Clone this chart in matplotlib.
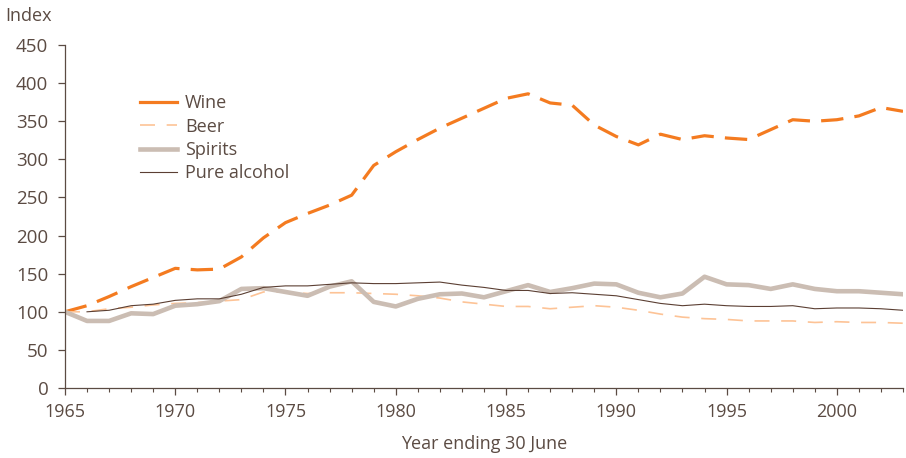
import matplotlib.pyplot as plt
from matplotlib.lines import Line2D
from matplotlib.ticker import MultipleLocator

# data (index, 1965 = 100)
years = list(range(1965, 2004))
wine = [100, 108, 120, 133, 145, 157, 155, 156, 172, 197, 217, 229, 240, 253,
        292, 310, 326, 341, 354, 367, 380, 386, 374, 371, 345, 330, 319, 333,
        326, 331, 328, 326, 339, 352, 350, 352, 357, 368, 363]
beer = [100, 100, 104, 106, 109, 111, 112, 114, 116, 126, 126, 124, 125, 125,
        124, 123, 121, 118, 113, 110, 107, 107, 104, 106, 108, 106, 102, 97,
        93, 91, 90, 88, 88, 88, 86, 87, 86, 86, 85]
spirits = [100, 88, 88, 98, 97, 108, 110, 114, 130, 131, 126, 121, 133, 140,
           113, 107, 117, 123, 124, 119, 127, 135, 126, 131, 137, 136, 125, 119,
           124, 146, 136, 135, 130, 136, 130, 127, 127, 125, 123]
pure_years = years[1:]
pure = [100, 102, 108, 110, 115, 117, 117, 123, 132, 134, 134, 136, 138,
        137, 137, 138, 139, 135, 132, 128, 128, 124, 125, 123, 121, 116, 111,
        108, 110, 108, 107, 107, 108, 104, 105, 105, 104, 102]

txt = '#5b4b43'
c_wine, c_beer, c_spirits, c_pure = '#f47b20', '#fdc396', '#cbbdb3', '#5b3f33'
plt.rcParams['font.family'] = ['Open Sans', 'DejaVu Sans']

fig = plt.figure(figsize=(9.06, 4.58), dpi=100)
ax = fig.add_axes([0.0717, 0.1528, 0.925, 0.7489])

ax.plot(years, wine, color=c_wine, lw=2.3, dashes=(7, 3.5))
ax.plot(years, beer, color=c_beer, lw=1.2, dashes=(9, 7))
ax.plot(years, spirits, color=c_spirits, lw=3.3)
ax.plot(pure_years, pure, color=c_pure, lw=0.8)

ax.set_xlim(1965, 2003)
ax.set_ylim(0, 450)
ax.xaxis.set_major_locator(MultipleLocator(5))
ax.xaxis.set_minor_locator(MultipleLocator(1))
ax.yaxis.set_major_locator(MultipleLocator(50))

for s in ['top', 'right']:
    ax.spines[s].set_visible(False)
for s in ['left', 'bottom']:
    ax.spines[s].set_color(txt)
    ax.spines[s].set_linewidth(0.9)
ax.tick_params(axis='both', which='major', colors=txt, labelsize=13, length=5, width=0.9)
ax.tick_params(axis='x', which='minor', colors=txt, length=3, width=0.8)
ax.tick_params(axis='y', pad=7, labelsize=13.5)
ax.tick_params(axis='x', pad=6)

ax.set_xlabel('Year ending 30 June', color=txt, fontsize=13, labelpad=10)
fig.text(0.006, 0.965, 'Index', color=txt, fontsize=13, ha='left', va='center')

handles = [Line2D([], [], color=c_wine, lw=2.3),
           Line2D([], [], color=c_beer, lw=1.2, dashes=(9, 7)),
           Line2D([], [], color=c_spirits, lw=3.3),
           Line2D([], [], color=c_pure, lw=0.8)]
labels = ['Wine', 'Beer', 'Spirits', 'Pure alcohol']
leg = ax.legend(handles, labels, loc='upper left', bbox_to_anchor=(0.07, 0.904),
                frameon=False, fontsize=13, handlelength=2.05, handletextpad=0.45,
                labelspacing=0.3)
for t in leg.get_texts():
    t.set_color(txt)

fig.savefig('out.png', dpi=100)
